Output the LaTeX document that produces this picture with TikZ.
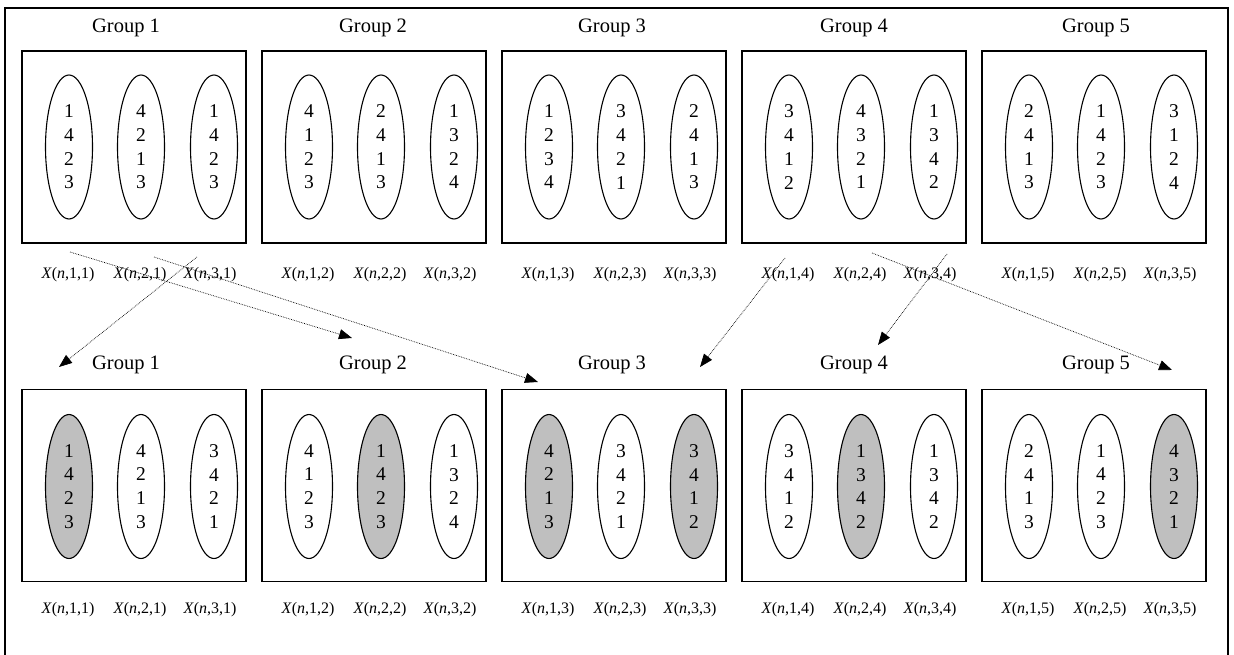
\documentclass[tikz,border=0pt]{standalone}
\usepackage{fontspec}
\setmainfont{Liberation Serif}
\usetikzlibrary{shapes.geometric,arrows.meta}
% four entries of a permutation, stacked one per line
\newcommand\stack[4]{#1\\#2\\#3\\#4}
\begin{document}
\begin{tikzpicture}[x=1pt,y=-1pt,
  frame/.style={line width=1.2pt},
  groupbox/.style={draw,line width=1.3pt,minimum width=224pt,minimum height=192pt,inner sep=0pt},
  perm/.style={draw,ellipse,line width=1.1pt,minimum width=47pt,minimum height=144pt,inner sep=0pt,
    align=center,font=\fontsize{19.5}{23.7}\selectfont},
  gtitle/.style={font=\fontsize{20.5}{24}\selectfont,inner sep=0pt,anchor=base},
  xlabel/.style={font=\fontsize{16}{19}\selectfont,inner sep=0pt},
  move/.style={densely dotted,line width=0.7pt,-{Triangle[length=13pt,width=10pt]}}
]
\useasboundingbox[fill=white] (0,0) rectangle (1234,655);

% outer frame (its lower edge lies below the page)
\draw[frame] (5,670) -- (5,8) -- (1228,8) -- (1228,670);

% upper row: the groups before the exchange
\foreach \g/\t/\a/\b/\c in {1/104/1423/4213/1423, 2/111/4123/2413/1324, 3/110/1234/3421/2413,
                            4/112/3412/4321/1342, 5/114/2413/1423/3124}{
  \pgfmathsetmacro\L{22+240*(\g-1)}
  \node[groupbox] (top-box-\g) at (\L+112,147) {};
  \node[perm] (top-\g-1) at (\L+47,147)  {\expandafter\stack\a};
  \node[perm] (top-\g-2) at (\L+119,147) {\expandafter\stack\b};
  \node[perm] (top-\g-3) at (\L+192,147) {\expandafter\stack\c};
  \node[gtitle] (top-title-\g) at (\L+\t,32.5) {Group \g};
  \node[xlabel] (top-x-\g-1) at (\L+46,275)  {\textit{X}(\textit{n},1,\g)};
  \node[xlabel] (top-x-\g-2) at (\L+118,275) {\textit{X}(\textit{n},2,\g)};
  \node[xlabel] (top-x-\g-3) at (\L+188,275) {\textit{X}(\textit{n},3,\g)};
}

% lower row: the groups after the exchange, received members shaded
\foreach \g/\t/\a/\fa/\b/\fb/\c/\fc in {
    1/104/1423/black!25/4213/white/3421/white,
    2/111/4123/white/1423/black!25/1324/white,
    3/110/4213/black!25/3421/white/3412/black!25,
    4/112/3412/white/1342/black!25/1342/white,
    5/114/2413/white/1423/white/4321/black!25}{
  \pgfmathsetmacro\L{22+240*(\g-1)}
  \node[groupbox] (bot-box-\g) at (\L+112,485.5) {};
  \node[perm,fill=\fa] (bot-\g-1) at (\L+47,486.5)  {\expandafter\stack\a};
  \node[perm,fill=\fb] (bot-\g-2) at (\L+119,486.5) {\expandafter\stack\b};
  \node[perm,fill=\fc] (bot-\g-3) at (\L+192,486.5) {\expandafter\stack\c};
  \node[gtitle] (bot-title-\g) at (\L+\t,369) {Group \g};
  \node[xlabel] (bot-x-\g-1) at (\L+46,610)  {\textit{X}(\textit{n},1,\g)};
  \node[xlabel] (bot-x-\g-2) at (\L+118,610) {\textit{X}(\textit{n},2,\g)};
  \node[xlabel] (bot-x-\g-3) at (\L+188,610) {\textit{X}(\textit{n},3,\g)};
}

% exchange moves
\coordinate (from-a) at (70,252);   \coordinate (to-a) at (352,338);
\coordinate (from-b) at (154,257);  \coordinate (to-b) at (538,382);
\coordinate (from-c) at (197,257);  \coordinate (to-c) at (59,367);
\coordinate (from-d) at (785,258);  \coordinate (to-d) at (700,367);
\coordinate (from-e) at (947,254);  \coordinate (to-e) at (878,345);
\coordinate (from-f) at (872,253);  \coordinate (to-f) at (1172,370);
\foreach \m in {a,b,c,d,e,f}
  \draw[move] (from-\m) -- (to-\m);
\end{tikzpicture}
\end{document}
